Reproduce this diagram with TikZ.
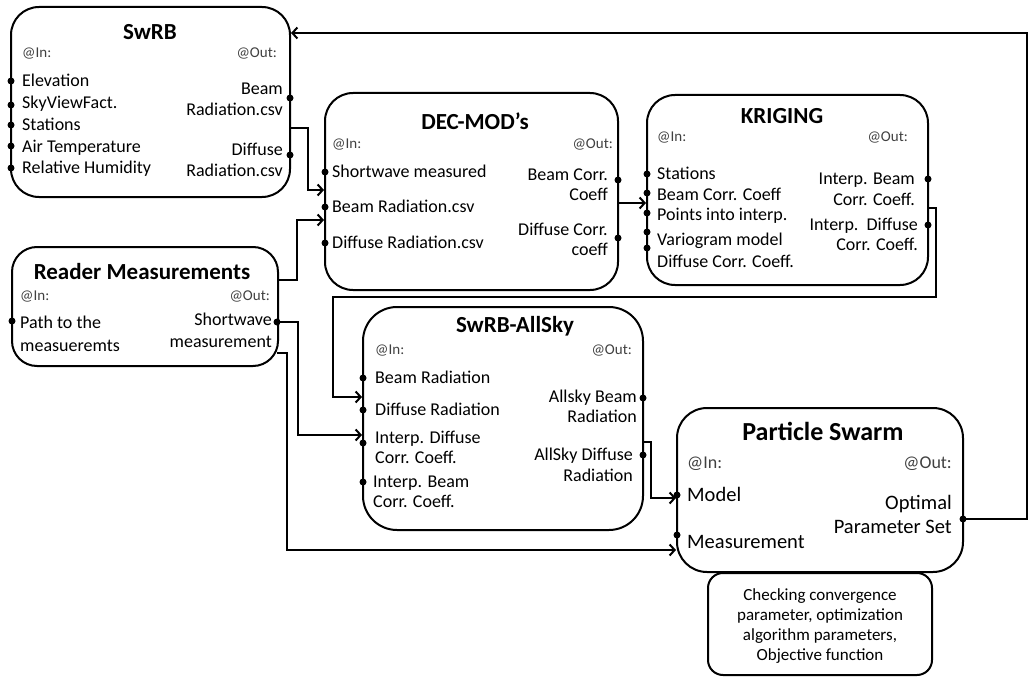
\documentclass[tikz,border=0pt]{standalone}
\usepackage{fontspec}
\setmainfont{Carlito}
\usetikzlibrary{arrows.meta}
\begin{document}
\begin{tikzpicture}[x=1pt,y=-1pt,
  box/.style={draw, line width=2pt, rounded corners=28pt, inner sep=0pt},
  txt/.style={font=\fontsize{18}{21}\selectfont, inner sep=0pt},
  lt/.style={txt, anchor=base west},
  rt/.style={txt, anchor=base east},
  atl/.style={font=\fontsize{15}{18}\selectfont, text=black!75, inner sep=0pt, anchor=base west},
  atr/.style={font=\fontsize{15}{18}\selectfont, text=black!75, inner sep=0pt, anchor=base east},
  ttl/.style={font=\fontsize{23}{27}\selectfont\bfseries, anchor=base, inner sep=0pt},
  pst/.style={font=\fontsize{20.5}{24}\selectfont, inner sep=0pt},
  bxt/.style={font=\fontsize{17}{20}\selectfont, inner sep=0pt, anchor=base},
  dot/.style={circle, fill, inner sep=0pt, minimum size=7pt},
  arr/.style={line width=2pt, -{Straight Barb[length=5pt,width=11pt,line width=2pt]}}
]
\useasboundingbox (0,0) rectangle (1029,677);

% ---------- boxes ----------
\node[box, minimum width=279pt, minimum height=190pt] (swrb) at (150.5,102) {};
\node[box, minimum width=293pt, minimum height=197pt] (dec) at (471.5,191.5) {};
\node[box, minimum width=281pt, minimum height=190pt] (krig) at (787.5,190) {};
\node[box, minimum width=266pt, minimum height=119pt, rounded corners=25pt] (rdr) at (145,306.5) {};
\node[box, minimum width=280pt, minimum height=223pt, rounded corners=34pt] (alls) at (503,418.5) {};
\node[box, minimum width=286pt, minimum height=164pt, rounded corners=30pt] (ps) at (820,490) {};
\node[box, minimum width=224pt, minimum height=102pt, rounded corners=15pt] (cfg) at (820,624) {};

% ---------- SwRB ----------
\node[ttl] (swrb-t) at (150,40) {SwRB};
\node[atl] (swrb-in) at (22,58) {@In:};
\node[atr] (swrb-out) at (277,58) {@Out:};
\node[lt] (swrb-i1) at (22,87) {Elevation};
\node[lt] (swrb-i2) at (22,109) {SkyViewFact.};
\node[lt] (swrb-i3) at (22,131) {Stations};
\node[lt] (swrb-i4) at (22,152) {Air Temperature};
\node[lt] (swrb-i5) at (22,173) {Relative Humidity};
\node[rt] (swrb-o1a) at (283,95) {Beam};
\node[rt] (swrb-o1b) at (283,115) {Radiation.csv};
\node[rt] (swrb-o2a) at (283,155) {Diffuse};
\node[rt] (swrb-o2b) at (283,176) {Radiation.csv};

% ---------- DEC-MOD's ----------
\node[ttl] (dec-t) at (475,129) {DEC-MOD’s};
\node[atl] (dec-in) at (332,148) {@In:};
\node[atr] (dec-out) at (613,148) {@Out:};
\node[lt] (dec-i1) at (332,177) {Shortwave measured};
\node[lt] (dec-i2) at (332,212) {Beam Radiation.csv};
\node[lt] (dec-i3) at (332,248) {Diffuse Radiation.csv};
\node[rt] (dec-o1a) at (608,180) {Beam Corr.};
\node[rt] (dec-o1b) at (608,200) {Coeff};
\node[rt] (dec-o2a) at (608,235) {Diffuse Corr.};
\node[rt] (dec-o2b) at (608,255) {coeff};

% ---------- KRIGING ----------
\node[ttl] (krig-t) at (782,124) {KRIGING};
\node[atl] (krig-in) at (657,142) {@In:};
\node[atr] (krig-out) at (908,142) {@Out:};
\node[lt] (krig-i1) at (657,179) {Stations};
\node[lt] (krig-i2) at (657,200) {Beam Corr. Coeff};
\node[lt] (krig-i3) at (657,220) {Points into interp.};
\node[lt] (krig-i4) at (657,245) {Variogram model};
\node[lt] (krig-i5) at (657,267) {Diffuse Corr. Coeff.};
\node[rt] (krig-o1a) at (915,184) {Interp. Beam};
\node[rt] (krig-o1b) at (915,205) {Corr. Coeff.};
\node[rt] (krig-o2a) at (918,230) {Interp.\ \ Diffuse};
\node[rt] (krig-o2b) at (918,250) {Corr. Coeff.};

% ---------- Reader Measurements ----------
\node[ttl] (rdr-t) at (142,279) {Reader Measurements};
\node[atl] (rdr-in) at (20,300) {@In:};
\node[atr] (rdr-out) at (270,300) {@Out:};
\node[lt] (rdr-i1a) at (20,328) {Path to the};
\node[lt] (rdr-i1b) at (20,351) {measueremts};
\node[rt] (rdr-o1a) at (272,325) {Shortwave};
\node[rt] (rdr-o1b) at (272,347) {measurement};

% ---------- SwRB-AllSky ----------
\node[ttl] (alls-t) at (515,332) {SwRB-AllSky};
\node[atl] (alls-in) at (375,354) {@In:};
\node[atr] (alls-out) at (632,354) {@Out:};
\node[lt] (alls-i1) at (375,383) {Beam Radiation};
\node[lt] (alls-i2) at (375,415) {Diffuse Radiation};
\node[lt] (alls-i3a) at (375,443) {Interp. Diffuse};
\node[lt] (alls-i3b) at (375,463) {Corr. Coeff.};
\node[lt] (alls-i4a) at (373,487) {Interp. Beam};
\node[lt] (alls-i4b) at (373,507) {Corr. Coeff.};
\node[rt] (alls-o1a) at (637,402) {Allsky Beam};
\node[rt] (alls-o1b) at (637,422) {Radiation};
\node[rt] (alls-o2a) at (633,460) {AllSky Diffuse};
\node[rt] (alls-o2b) at (633,481) {Radiation};

% ---------- Particle Swarm ----------
\node[ttl, font=\fontsize{26}{30}\selectfont\bfseries] (ps-t) at (823,440) {Particle Swarm};
\node[atl, font=\fontsize{18}{21}\selectfont] (ps-in) at (687,468) {@In:};
\node[atr, font=\fontsize{18}{21}\selectfont] (ps-out) at (952,468) {@Out:};
\node[pst, anchor=base west] (ps-i1) at (687,501) {Model};
\node[pst, anchor=base west] (ps-i2) at (687,548) {Measurement};
\node[pst, anchor=base east] (ps-o1a) at (952,509) {Optimal};
\node[pst, anchor=base east] (ps-o1b) at (952,533) {Parameter Set};

% ---------- configuration box ----------
\node[bxt] (cfg-1) at (820,600) {Checking convergence};
\node[bxt] (cfg-2) at (820,620) {parameter, optimization};
\node[bxt] (cfg-3) at (820,640) {algorithm parameters,};
\node[bxt] (cfg-4) at (820,660) {Objective function};

% ---------- port dots ----------
\foreach \n/\x/\y in {sw-d1/11/81, sw-d2/11/105, sw-d3/11/125, sw-d4/11/146, sw-d5/11/168,
  sw-e1/290/98, sw-e2/290/155,
  dec-d1/325/172, dec-d2/325/207, dec-d3/325/243, dec-e1/618/180, dec-e2/618/238,
  kr-d1/647/174, kr-d2/647/193, kr-d3/647/213, kr-d4/647/232, kr-d5/647/248,
  kr-e1/928/179, kr-e2/928/225,
  rd-d1/12/321, rd-e1/277/322,
  al-d1/363/378, al-d2/363/410, al-d3/363/443, al-d4/363/482,
  al-e1/643/398, al-e2/643/455,
  ps-d1/677/495, ps-d2/677/535, ps-e1/963/519}
  \node[dot] (\n) at (\x,\y) {};

% ---------- connector bend points ----------
\coordinate (r1) at (1027,519);
\coordinate (r2) at (1027,33);
\coordinate (a0) at (290,128);
\coordinate (a1) at (308,128);
\coordinate (a2) at (308,190);
\coordinate (b0) at (278,280);
\coordinate (b1) at (297,280);
\coordinate (b2) at (297,220);
\coordinate (k0) at (618,203);
\coordinate (m0) at (928,208);
\coordinate (m1) at (936,208);
\coordinate (m2) at (936,297);
\coordinate (m3) at (333,297);
\coordinate (m4) at (333,397);
\coordinate (s1) at (298,322);
\coordinate (s2) at (298,435);
\coordinate (t0) at (277,353);
\coordinate (t1) at (287,353);
\coordinate (t2) at (287,550);
\coordinate (u0) at (643,442);
\coordinate (u1) at (651,442);
\coordinate (u2) at (651,498);

% ---------- connectors ----------
\draw[arr] (ps-e1.center) -- (r1) -- (r2) -- (swrb.east |- r2);
\draw[arr] (a0) -- (a1) -- (a2) -- (dec.west |- a2);
\draw[arr] (b0) -- (b1) -- (b2) -- (dec.west |- b2);
\draw[arr] (k0) -- (krig.west |- k0);
\draw[arr] (m0) -- (m1) -- (m2) -- (m3) -- (m4) -- (alls.west |- m4);
\draw[arr] (rd-e1.center) -- (s1) -- (s2) -- (alls.west |- s2);
\draw[arr] (t0) -- (t1) -- (t2) -- (ps.west |- t2);
\draw[arr] (u0) -- (u1) -- (u2) -- (ps.west |- u2);
\end{tikzpicture}
\end{document}
